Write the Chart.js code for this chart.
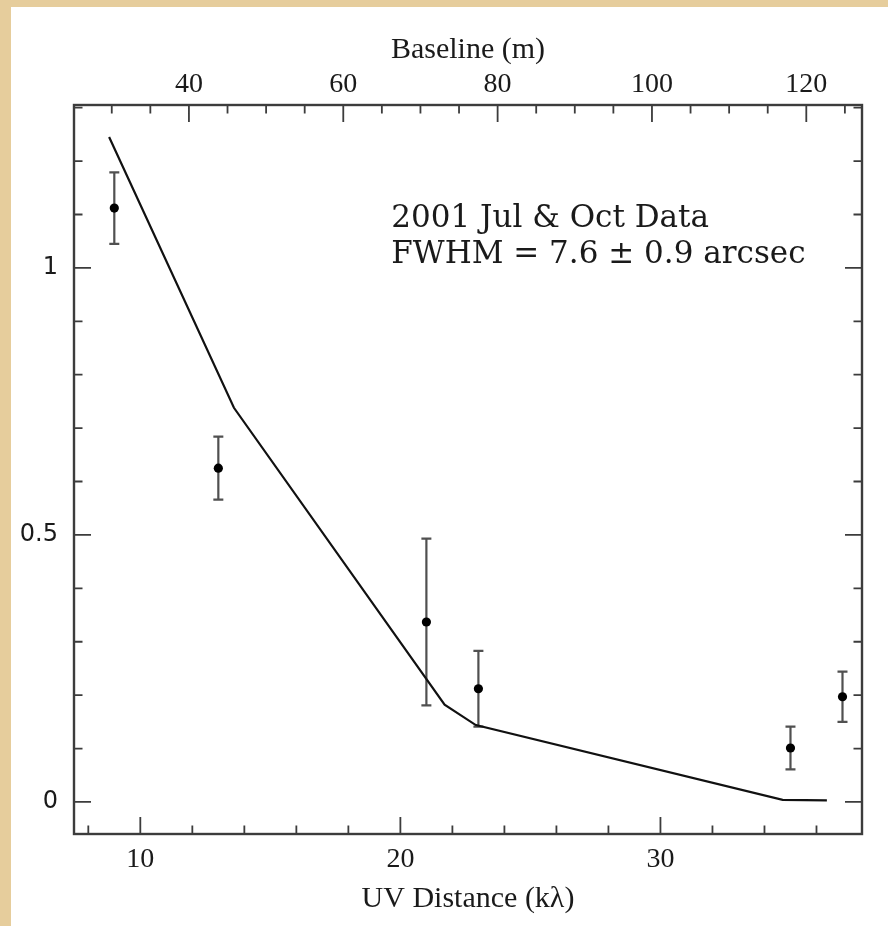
<!DOCTYPE html>
<html>
<head>
<meta charset="utf-8">
<script src="https://cdn.jsdelivr.net/npm/chart.js@4.4.1/dist/chart.umd.min.js"></script>
<style>
  html, body { margin: 0; padding: 0; width: 888px; height: 926px; overflow: hidden; background: #e6cd9c; }
  #panel { position: absolute; left: 11px; top: 7px; width: 877px; height: 919px; background: #ffffff; }
  #wrap { position: absolute; left: 0; top: 0; width: 888px; height: 926px; }
</style>
</head>
<body>
<div id="panel"></div>
<div id="wrap"><canvas id="c" width="888" height="926"></canvas></div>
<script>
// Visibility amplitude vs. projected uv distance
const uvDist = [9.0, 13.0, 21.0, 23.0, 35.0, 37.0];          // kλ
const amp = [1.112, 0.625, 0.337, 0.212, 0.101, 0.197];
const ampErr = [0.067, 0.059, 0.156, 0.071, 0.040, 0.047];

// Gaussian source model (FWHM 7.6")
const modelUv = [8.8, 13.6, 21.7, 22.9, 34.7, 36.4];
const modelAmp = [1.245, 0.738, 0.182, 0.144, 0.004, 0.003];

// Axis ticks
const uvTicks = [10, 20, 30];
const baselineTicks = [40, 60, 80, 100, 120];
const ampTicks = [0, 0.5, 1];
const ampTickLabels = ['0', '0.5', '1'];

const M_PER_KLAMBDA = 3.37;   // baseline (m) per kλ at this wavelength
const X_MIN = 7.45, X_MAX = 37.75;
const Y_MIN = -0.06, Y_MAX = 1.305;

const annotationLines = ['2001 Jul & Oct Data', 'FWHM = 7.6 \u00b1 0.9 arcsec'];

const INK = '#1a1a1a';
const AXIS = '#3c3c3c';

const serifTicks = { family: '"Liberation Serif", "Times New Roman", serif', size: 28 };
const serifTitle = { family: '"Liberation Serif", "Times New Roman", serif', size: 30 };

function fixSize(w, h) {
  return function (scale) {
    if (w != null) scale.width = w;
    if (h != null) scale.height = h;
  };
}

// Error bars under the points
const errorBars = {
  id: 'errorBars',
  beforeDatasetsDraw(chart) {
    const { ctx } = chart;
    const xs = chart.scales.x, ys = chart.scales.y;
    ctx.save();
    ctx.strokeStyle = '#505050';
    ctx.lineWidth = 2.2;
    for (let i = 0; i < uvDist.length; i++) {
      const px = xs.getPixelForValue(uvDist[i]);
      const pt = ys.getPixelForValue(amp[i] + ampErr[i]);
      const pb = ys.getPixelForValue(amp[i] - ampErr[i]);
      ctx.beginPath();
      ctx.moveTo(px, pt); ctx.lineTo(px, pb);
      ctx.moveTo(px - 5, pt); ctx.lineTo(px + 5, pt);
      ctx.moveTo(px - 5, pb); ctx.lineTo(px + 5, pb);
      ctx.stroke();
    }
    ctx.restore();
  }
};

// Box frame with inward tick marks on all four sides, plus the text note
const frame = {
  id: 'frame',
  afterDraw(chart) {
    const { ctx, chartArea: ca } = chart;
    const xs = chart.scales.x, xt = chart.scales.x2, ys = chart.scales.y;
    const MAJ = 17, MIN = 8.5;
    ctx.save();
    ctx.strokeStyle = AXIS;
    ctx.lineWidth = 1.8;
    ctx.beginPath();
    // left / right: amplitude, minor every 0.1
    for (let k = 0; k <= 13; k++) {
      const v = k / 10;
      if (v > Y_MAX) break;
      const len = (k % 5 === 0) ? MAJ : MIN;
      const py = ys.getPixelForValue(v);
      ctx.moveTo(ca.left, py); ctx.lineTo(ca.left + len, py);
      ctx.moveTo(ca.right, py); ctx.lineTo(ca.right - len, py);
    }
    // bottom: uv distance, minor every 2 kλ
    for (let v = 8; v <= 36; v += 2) {
      const len = (v % 10 === 0) ? MAJ : MIN;
      const px = xs.getPixelForValue(v);
      ctx.moveTo(px, ca.bottom); ctx.lineTo(px, ca.bottom - len);
    }
    // top: baseline, minor every 5 m
    for (let v = 30; v <= 125; v += 5) {
      const len = (v % 20 === 0) ? MAJ : MIN;
      const px = xt.getPixelForValue(v);
      ctx.moveTo(px, ca.top); ctx.lineTo(px, ca.top + len);
    }
    ctx.stroke();

    ctx.lineWidth = 2.4;
    ctx.strokeRect(ca.left, ca.top, ca.right - ca.left, ca.bottom - ca.top);

    // note
    ctx.fillStyle = INK;
    ctx.font = '31px "DejaVu Serif", serif';
    ctx.textBaseline = 'alphabetic';
    ctx.textAlign = 'left';
    const tx = xs.getPixelForValue(19.65);
    const ty = ys.getPixelForValue(1.077);
    ctx.fillText(annotationLines[0], tx, ty);
    ctx.fillText(annotationLines[1], tx, ty + 36);
    ctx.restore();
  }
};

new Chart(document.getElementById('c'), {
  type: 'scatter',
  data: {
    datasets: [
      {
        label: 'model',
        data: modelUv.map((u, i) => ({ x: u, y: modelAmp[i] })),
        showLine: true,
        borderColor: '#111111',
        borderWidth: 2.2,
        pointRadius: 0,
        tension: 0,
        order: 2
      },
      {
        label: 'data',
        data: uvDist.map((u, i) => ({ x: u, y: amp[i] })),
        pointRadius: 4.6,
        pointBackgroundColor: '#000000',
        pointBorderColor: '#000000',
        pointBorderWidth: 0,
        order: 1
      }
    ]
  },
  options: {
    responsive: false,
    animation: false,
    devicePixelRatio: 1,
    layout: { padding: { left: 0, right: 26, top: 0, bottom: 0 } },
    plugins: { legend: { display: false }, tooltip: { enabled: false } },
    scales: {
      x: {
        type: 'linear', position: 'bottom', min: X_MIN, max: X_MAX,
        grid: { display: false, drawTicks: false }, border: { display: false },
        afterBuildTicks: s => { s.ticks = uvTicks.map(v => ({ value: v })); },
        afterFit: fixSize(null, 92),
        ticks: { font: serifTicks, color: INK, padding: 9, maxRotation: 0, callback: v => String(v) },
        title: { display: true, text: 'UV Distance (k\u03bb)', font: serifTitle, color: INK, padding: { top: 0, bottom: 9 } }
      },
      x2: {
        type: 'linear', position: 'top',
        min: X_MIN * M_PER_KLAMBDA, max: X_MAX * M_PER_KLAMBDA,
        grid: { display: false, drawTicks: false }, border: { display: false },
        afterBuildTicks: s => { s.ticks = baselineTicks.map(v => ({ value: v })); },
        afterFit: fixSize(null, 105),
        ticks: { font: serifTicks, color: INK, padding: 4, maxRotation: 0, callback: v => String(v) },
        title: { display: true, text: 'Baseline (m)', font: serifTitle, color: INK, padding: { top: 32, bottom: 0 } }
      },
      y: {
        type: 'linear', position: 'left', min: Y_MIN, max: Y_MAX,
        grid: { display: false, drawTicks: false }, border: { display: false },
        afterBuildTicks: s => { s.ticks = ampTicks.map(v => ({ value: v })); },
        afterFit: fixSize(74, null),
        ticks: {
          font: { family: '"DejaVu Sans", sans-serif', size: 24 }, color: INK, padding: 16,
          callback: v => ampTickLabels[ampTicks.indexOf(v)]
        }
      }
    }
  },
  plugins: [errorBars, frame]
});
</script>
</body>
</html>
